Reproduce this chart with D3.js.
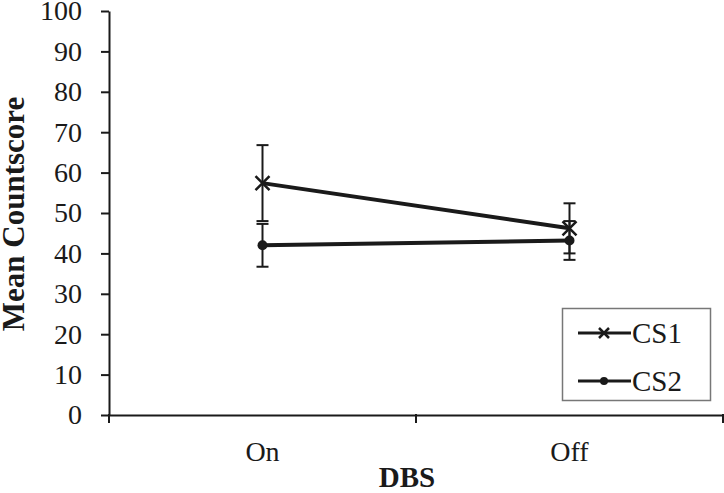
<!DOCTYPE html>
<html>
<head>
<meta charset="utf-8">
<script src="https://cdn.jsdelivr.net/npm/d3@7"></script>
<style>
  body { margin: 0; background: #fff; }
  svg text { font-family: "Liberation Serif", "Times New Roman", serif; fill: #1a1a1a; }
</style>
</head>
<body>
<div id="viz"></div>
<script>
// values
var conditions = ["On", "Off"];
var seriesNames = ["CS1", "CS2"];
var cs1Means = [57.4, 46.2];
var cs1Errors = [9.4, 6.2];
var cs2Means = [42.0, 43.2];
var cs2Errors = [5.3, 4.8];
var yTicks = [0, 10, 20, 30, 40, 50, 60, 70, 80, 90, 100];

var screenWidth = 724,
    screenHeight = 493,
    ink = "#1a1a1a";

var svg = d3.select("div#viz")
            .append("svg")
            .attr("width", screenWidth)
            .attr("height", screenHeight);

var xScale = d3.scaleBand()
               .domain(conditions)
               .range([109, 723]),
    yScale = d3.scaleLinear()
               .domain([0, 100])
               .range([415, 11]),
    xMid = function(d) { return xScale(d) + xScale.bandwidth() / 2; };

// y axis
var yAxis = d3.axisLeft(yScale)
              .tickValues(yTicks)
              .tickSize(8)
              .tickSizeOuter(0)
              .tickPadding(19);

var gy = svg.append("g")
            .attr("transform", "translate(" + 109 + ",0)")
            .call(yAxis);
gy.select(".domain").attr("stroke", ink).attr("stroke-width", 2);
gy.selectAll(".tick line").attr("stroke", ink).attr("stroke-width", 2);
gy.selectAll(".tick text")
  .style("font-size", "28px")
  .attr("fill", ink);

// x axis, ticks sit on category boundaries
var xAxis = d3.axisBottom(xScale).tickSize(0).tickSizeOuter(0);
var gx = svg.append("g")
            .attr("transform", "translate(0," + 415 + ")")
            .call(xAxis);
gx.select(".domain").attr("stroke", ink).attr("stroke-width", 2);
gx.selectAll(".tick text")
  .attr("y", 46)
  .attr("dy", 0)
  .style("font-size", "28px")
  .attr("fill", ink);

var edges = conditions.map(function(d) { return xScale(d); })
                      .concat([xScale.range()[1]]);
gx.selectAll("line.edge")
  .data(edges)
  .enter()
  .append("line")
  .attr("class", "edge")
  .attr("x1", function(d) { return d; })
  .attr("x2", function(d) { return d; })
  .attr("y1", -1)
  .attr("y2", 8)
  .attr("stroke", ink)
  .attr("stroke-width", 2);

// axis titles
svg.append("text")
   .attr("transform", "translate(" + 24 + "," + 214 + ") rotate(-90)")
   .style("text-anchor", "middle")
   .style("font-size", "31px")
   .style("font-weight", "bold")
   .text("Mean Countscore");

svg.append("text")
   .attr("x", 407)
   .attr("y", 487)
   .style("text-anchor", "middle")
   .style("font-size", "29px")
   .style("font-weight", "bold")
   .text("DBS");

var series = [
  {name: seriesNames[0], means: cs1Means, errors: cs1Errors, marker: "x"},
  {name: seriesNames[1], means: cs2Means, errors: cs2Errors, marker: "dot"}
];

var line = d3.line()
             .x(function(d) { return xMid(d.cond); })
             .y(function(d) { return yScale(d.mean); });

series.forEach(function(s) {
    var pts = conditions.map(function(c, i) {
        return {cond: c, mean: s.means[i], err: s.errors[i]};
    });

    // error bars
    var eb = svg.append("g");
    eb.selectAll("line.bar")
      .data(pts)
      .enter()
      .append("line")
      .attr("x1", function(d) { return xMid(d.cond); })
      .attr("x2", function(d) { return xMid(d.cond); })
      .attr("y1", function(d) { return yScale(d.mean + d.err); })
      .attr("y2", function(d) { return yScale(d.mean - d.err); })
      .attr("stroke", ink)
      .attr("stroke-width", 2);
    [1, -1].forEach(function(sign) {
        eb.selectAll("line.cap" + sign)
          .data(pts)
          .enter()
          .append("line")
          .attr("x1", function(d) { return xMid(d.cond) - 6; })
          .attr("x2", function(d) { return xMid(d.cond) + 6; })
          .attr("y1", function(d) { return yScale(d.mean + sign * d.err); })
          .attr("y2", function(d) { return yScale(d.mean + sign * d.err); })
          .attr("stroke", ink)
          .attr("stroke-width", 2);
    });

    svg.append("path")
       .datum(pts)
       .attr("d", line)
       .attr("fill", "none")
       .attr("stroke", ink)
       .attr("stroke-width", 4);

    drawMarker(svg, pts.map(function(d) { return [xMid(d.cond), yScale(d.mean)]; }), s.marker, 7, 5);
});

function drawMarker(g, xy, kind, half, r) {
    xy.forEach(function(p) {
        if (kind === "x") {
            g.append("path")
             .attr("d", "M" + (p[0] - half) + "," + (p[1] - half) + "L" + (p[0] + half) + "," + (p[1] + half) +
                        "M" + (p[0] - half) + "," + (p[1] + half) + "L" + (p[0] + half) + "," + (p[1] - half))
             .attr("stroke", ink)
             .attr("stroke-width", 2.5);
        } else {
            g.append("circle")
             .attr("cx", p[0])
             .attr("cy", p[1])
             .attr("r", r)
             .attr("fill", ink);
        }
    });
}

// legend
var legend = svg.append("g");
legend.append("rect")
      .attr("x", 562.5)
      .attr("y", 308.5)
      .attr("width", 148)
      .attr("height", 92)
      .attr("fill", "#fff")
      .attr("stroke", "#777")
      .attr("stroke-width", 1.5);

var legendRows = svg.append("g")
                    .selectAll("g")
                    .data(series)
                    .enter()
                    .append("g")
                    .attr("transform", function(d, i) { return "translate(0," + (333 + i * 48) + ")"; });
legendRows.append("line")
          .attr("x1", 578)
          .attr("x2", 631)
          .attr("y1", 0)
          .attr("y2", 0)
          .attr("stroke", ink)
          .attr("stroke-width", 3);
legendRows.each(function(d) {
    drawMarker(d3.select(this), [[604, 0]], d.marker, 5, 4);
});
legendRows.append("text")
          .attr("x", 632)
          .attr("y", 10)
          .style("font-size", "29px")
          .text(function(d) { return d.name; });
</script>
</body>
</html>
